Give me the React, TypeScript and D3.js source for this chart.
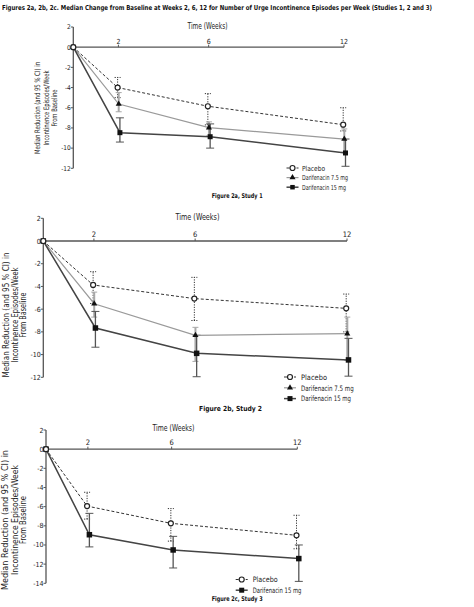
import React from "react";
import * as d3 from "d3";

// ---------- DATA ----------
const WEEKS = [0, 2, 6, 12];
const X_TICKS = [2, 6, 12];
const TITLE =
  "Figures 2a, 2b, 2c. Median Change from Baseline at Weeks 2, 6, 12 for Number of Urge Incontinence Episodes per Week (Studies 1, 2 and 3)";
const Y_LABEL = ["Median Reduction (and 95 % CI) in", "Incontinence Episodes/Week", "From Baseline"];
const X_LABEL = "Time (Weeks)";

// Study 1
const S1_PLACEBO = [0, -4.0, -5.85, -7.68];
const S1_PLACEBO_LO = [0, -5.0, -7.7, -8.3];
const S1_PLACEBO_HI = [0, -3.0, -4.6, -6.0];
const S1_D75 = [0, -5.63, -7.97, -9.1];
const S1_D75_LO = [0, -6.4, -8.8, -10.4];
const S1_D75_HI = [0, -4.5, -7.4, -8.1];
const S1_D15 = [0, -8.47, -8.87, -10.48];
const S1_D15_LO = [0, -9.4, -10.0, -11.8];
const S1_D15_HI = [0, -7.0, -7.6, -9.1];

// Study 2
const S2_PLACEBO = [0, -3.87, -5.07, -5.93];
const S2_PLACEBO_LO = [0, -5.5, -7.0, -8.0];
const S2_PLACEBO_HI = [0, -2.7, -3.2, -4.67];
const S2_D75 = [0, -5.52, -8.3, -8.16];
const S2_D75_LO = [0, -6.7, -10.6, -10.5];
const S2_D75_HI = [0, -4.5, -7.6, -6.7];
const S2_D15 = [0, -7.66, -9.89, -10.47];
const S2_D15_LO = [0, -9.35, -11.95, -11.9];
const S2_D15_HI = [0, -6.2, -8.3, -8.57];

// Study 3
const S3_PLACEBO = [0, -5.94, -7.74, -8.99];
const S3_PLACEBO_LO = [0, -7.3, -9.6, -10.4];
const S3_PLACEBO_HI = [0, -4.5, -6.2, -6.9];
const S3_D15 = [0, -8.93, -10.52, -11.42];
const S3_D15_LO = [0, -10.2, -12.4, -13.8];
const S3_D15_HI = [0, -6.7, -9.1, -10.0];

const SERIES_NAMES = { placebo: "Placebo", d75: "Darifenacin 7.5 mg", d15: "Darifenacin 15 mg" };

// ---------- STYLE ----------
const FONT = "'Liberation Sans Narrow','Arial Narrow','DejaVu Sans Condensed','Roboto Condensed',Arial,sans-serif";

type Kind = "placebo" | "d75" | "d15";
const STYLE: Record<Kind, any> = {
  placebo: { line: "#333", lw: 1, dash: "3,2", err: "#333", ew: 1, edash: "1.2,1.3", off: -0.8 },
  d75: { line: "#9a9a9a", lw: 1.2, dash: null, err: "#a8a8a8", ew: 2, edash: null, off: 0.3 },
  d15: { line: "#444", lw: 1.5, dash: null, err: "#555", ew: 1.3, edash: null, off: 1.5 },
};

type Series = { kind: Kind; v: number[]; lo: number[]; hi: number[] };

const PANELS = [
  {
    series: [
      { kind: "placebo", v: S1_PLACEBO, lo: S1_PLACEBO_LO, hi: S1_PLACEBO_HI },
      { kind: "d75", v: S1_D75, lo: S1_D75_LO, hi: S1_D75_HI },
      { kind: "d15", v: S1_D15, lo: S1_D15_LO, hi: S1_D15_HI },
    ] as Series[],
    yMin: -12,
    xr: [73.3, 344],
    yr: [27, 168.3],
    tickFs: 6.5,
    xLabel: { cx: 207.5, y: 29, fs: 8, len: 40 },
    xTickY: 44,
    yLab: { xs: [40.3, 48.6, 56.6], cy: 108, fs: 7.5, lens: [92, 75, 37] },
    legend: { mx: 292.5, tx: 302, y0: 168, dy: 9.6, fs: 7, lens: [23, 46, 44] },
    caption: { text: "Figure 2a, Study 1", x: 211.7, y: 197.5, len: 51, fs: 6.5 },
    sq: 5,
  },
  {
    series: [
      { kind: "placebo", v: S2_PLACEBO, lo: S2_PLACEBO_LO, hi: S2_PLACEBO_HI },
      { kind: "d75", v: S2_D75, lo: S2_D75_LO, hi: S2_D75_HI },
      { kind: "d15", v: S2_D15, lo: S2_D15_LO, hi: S2_D15_HI },
    ] as Series[],
    yMin: -12,
    xr: [43.3, 347],
    yr: [218.3, 377.3],
    tickFs: 7,
    xLabel: { cx: 197.5, y: 219.5, fs: 9, len: 44 },
    xTickY: 236.5,
    yLab: { xs: [8.9, 17.5, 25.5], cy: 315, fs: 9, lens: [125, 95, 45] },
    legend: { mx: 290, tx: 301, y0: 377, dy: 10.8, fs: 7.5, lens: [26, 52.7, 50] },
    caption: { text: "Figure 2b, Study 2", x: 199, y: 410.5, len: 63, fs: 7 },
    sq: 5.5,
  },
  {
    series: [
      { kind: "placebo", v: S3_PLACEBO, lo: S3_PLACEBO_LO, hi: S3_PLACEBO_HI },
      { kind: "d15", v: S3_D15, lo: S3_D15_LO, hi: S3_D15_HI },
    ] as Series[],
    yMin: -14,
    xr: [46, 297.3],
    yr: [430, 583.3],
    tickFs: 7,
    xLabel: { cx: 173.5, y: 430.5, fs: 9, len: 42 },
    xTickY: 444.5,
    yLab: { xs: [8.2, 17.5, 25.9], cy: 520, fs: 9.5, lens: [140, 110, 48] },
    legend: { mx: 241.7, tx: 252.7, y0: 579.5, dy: 10.7, fs: 7.5, lens: [25, 48.7] },
    caption: { text: "Figure 2c, Study 3", x: 211.7, y: 600.5, len: 51, fs: 6.5 },
    sq: 5.5,
  },
];

function Marker({ kind, x, y, sq }: { kind: Kind; x: number; y: number; sq: number }) {
  if (kind === "placebo")
    return <circle cx={x} cy={y} r={2.5} fill="#fff" stroke="#222" strokeWidth={1.2} />;
  if (kind === "d75") {
    const p = d3.symbol().type(d3.symbolTriangle).size(16)();
    return <path d={p as string} transform={`translate(${x},${y})`} fill="#111" />;
  }
  return <rect x={x - sq / 2} y={y - sq / 2} width={sq} height={sq} fill="#111" />;
}

function Panel({ p }: { p: (typeof PANELS)[number] }) {
  const x = d3.scaleLinear().domain([0, 12]).range(p.xr);
  const y = d3.scaleLinear().domain([2, p.yMin]).range(p.yr);
  const yTicks = d3.range(2, p.yMin - 1, -2);
  const axisColor = "#555";
  return (
    <g fontFamily={FONT}>
      {/* y axis */}
      <line x1={x(0)} x2={x(0)} y1={y(2)} y2={y(p.yMin)} stroke={axisColor} strokeWidth={1.3} />
      {yTicks.map((t) => (
        <g key={t}>
          <line x1={x(0) - 2.5} x2={x(0)} y1={y(t)} y2={y(t)} stroke={axisColor} strokeWidth={1} />
          <text x={x(0) - 2.5} y={y(t) + p.tickFs * 0.36} fontSize={p.tickFs} textAnchor="end" fill="#222">
            {t}
          </text>
        </g>
      ))}
      {/* x axis at zero */}
      <line x1={x(0)} x2={x(12)} y1={y(0)} y2={y(0)} stroke={axisColor} strokeWidth={1.3} />
      {X_TICKS.map((t) => (
        <g key={t}>
          <line x1={x(t)} x2={x(t)} y1={y(0) - 2.5} y2={y(0)} stroke={axisColor} strokeWidth={1} />
          <text x={x(t)} y={p.xTickY} fontSize={p.tickFs + 0.5} textAnchor="middle" fill="#222">
            {t}
          </text>
        </g>
      ))}
      <text
        x={p.xLabel.cx}
        y={p.xLabel.y}
        fontSize={p.xLabel.fs}
        textAnchor="middle"
        textLength={p.xLabel.len}
        lengthAdjust="spacingAndGlyphs"
        fill="#222"
      >
        {X_LABEL}
      </text>
      {Y_LABEL.map((s, i) => (
        <text
          key={i}
          transform={`translate(${p.yLab.xs[i]},${p.yLab.cy}) rotate(-90)`}
          fontSize={p.yLab.fs}
          textAnchor="middle"
          textLength={p.yLab.lens[i]}
          lengthAdjust="spacingAndGlyphs"
          fill="#222"
        >
          {s}
        </text>
      ))}
      {/* error bars */}
      {p.series.map((s) => {
        const st = STYLE[s.kind];
        return (
          <g key={"e" + s.kind}>
            {WEEKS.map((w, i) => {
              if (w === 0) return null;
              const cx = x(w) + st.off;
              const cw = s.kind === "d15" ? 4 : 3;
              return (
                <g key={i} stroke={st.err} strokeWidth={st.ew} strokeDasharray={st.edash ?? undefined}>
                  <line x1={cx} x2={cx} y1={y(s.lo[i])} y2={y(s.hi[i])} />
                  <line x1={cx - cw} x2={cx + cw} y1={y(s.lo[i])} y2={y(s.lo[i])} strokeWidth={1} />
                  <line x1={cx - cw} x2={cx + cw} y1={y(s.hi[i])} y2={y(s.hi[i])} strokeWidth={1} />
                </g>
              );
            })}
          </g>
        );
      })}
      {/* lines */}
      {p.series.map((s) => {
        const st = STYLE[s.kind];
        const gen = d3
          .line<number>()
          .x((_, i) => x(WEEKS[i]) + (i === 0 ? 0 : st.off))
          .y((d) => y(d));
        return (
          <path
            key={"l" + s.kind}
            d={gen(s.v) as string}
            fill="none"
            stroke={st.line}
            strokeWidth={st.lw}
            strokeDasharray={st.dash ?? undefined}
          />
        );
      })}
      {/* markers */}
      {[...p.series].reverse().map((s) => {
        const st = STYLE[s.kind];
        return (
          <g key={"m" + s.kind}>
            {s.v.map((d, i) => (
              <Marker key={i} kind={s.kind} x={x(WEEKS[i]) + (i === 0 ? 0 : st.off)} y={y(d)} sq={p.sq} />
            ))}
          </g>
        );
      })}
      {/* legend */}
      {p.series.map((s, i) => {
        const st = STYLE[s.kind];
        const ly = p.legend.y0 + i * p.legend.dy;
        return (
          <g key={"lg" + s.kind}>
            <line
              x1={p.legend.mx - 6}
              x2={p.legend.mx + 6}
              y1={ly}
              y2={ly}
              stroke={st.line}
              strokeWidth={st.lw}
              strokeDasharray={st.dash ?? undefined}
            />
            <Marker kind={s.kind} x={p.legend.mx} y={ly} sq={p.sq - 0.5} />
            <text
              x={p.legend.tx}
              y={ly + p.legend.fs * 0.36}
              fontSize={p.legend.fs}
              textLength={p.legend.lens[i]}
              lengthAdjust="spacingAndGlyphs"
              fill="#222"
            >
              {SERIES_NAMES[s.kind]}
            </text>
          </g>
        );
      })}
      <text
        x={p.caption.x}
        y={p.caption.y}
        fontSize={p.caption.fs}
        fontWeight="bold"
        textLength={p.caption.len}
        lengthAdjust="spacingAndGlyphs"
        fill="#111"
      >
        {p.caption.text}
      </text>
    </g>
  );
}

const TITLE_SCALE = 0.82;

export default function App() {
  return (
    <svg
      width={474}
      height={607}
      style={{ position: "absolute", left: 0, top: 0, background: "#fff" }}
    >
      <rect width={474} height={607} fill="#fff" />
      <text
        transform={`translate(2,9.5) scale(${TITLE_SCALE},1)`}
        fontFamily={FONT}
        fontSize={6.8}
        fontWeight="bold"
        textLength={430 / TITLE_SCALE}
        lengthAdjust="spacingAndGlyphs"
        fill="#111"
      >
        {TITLE}
      </text>
      {PANELS.map((p, i) => (
        <Panel key={i} p={p} />
      ))}
    </svg>
  );
}
